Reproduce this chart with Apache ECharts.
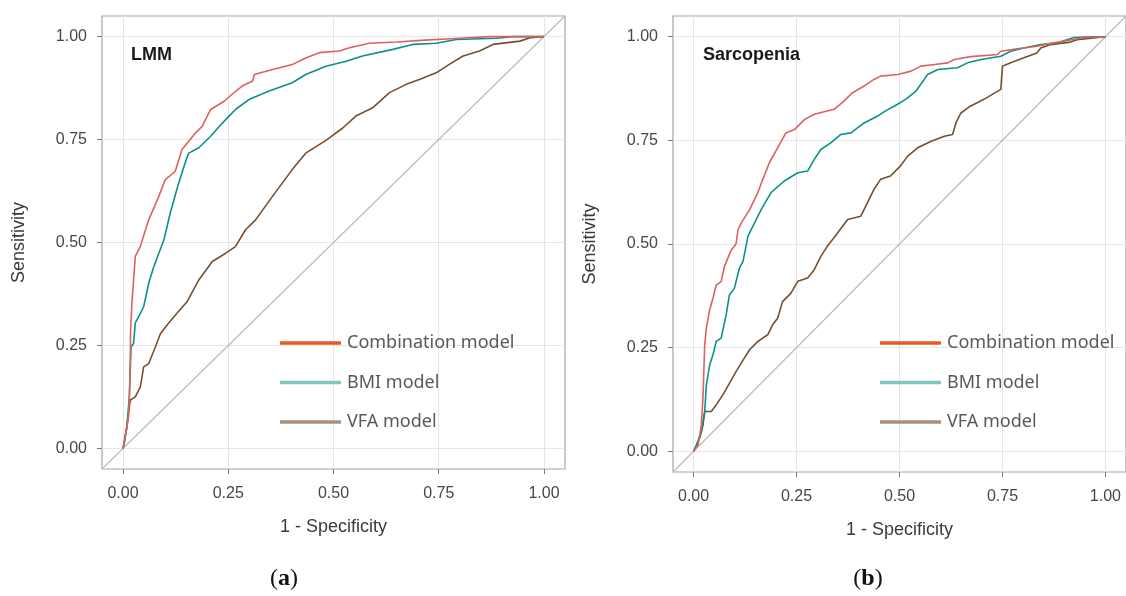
<!DOCTYPE html>
<html>
<head>
<meta charset="utf-8">
<title>ROC curves</title>
<script src="https://cdn.jsdelivr.net/npm/echarts@6/dist/echarts.min.js"></script>
<style>
    html, body { margin: 0; padding: 0; background: #fff; }
    #chart { width: 1126px; height: 596px; }
</style>
</head>
<body>
<div id="chart"></div>
<script>
// tick values shared by both panels
var tickValues = [0, 0.25, 0.5, 0.75, 1];
var tickLabels = ['0.00', '0.25', '0.50', '0.75', '1.00'];
var modelNames = ['Combination model', 'BMI model', 'VFA model'];
var panelNames = ['LMM', 'Sarcopenia'];
var captions = ['a', 'b'];

// (a) LMM  -- [1 - specificity, sensitivity]
var lmmCombination = [[0, 0], [0.005, 0.028], [0.013, 0.076], [0.015, 0.125], [0.017, 0.206], [0.018, 0.29],
    [0.021, 0.352], [0.025, 0.409], [0.029, 0.466], [0.041, 0.49], [0.05, 0.52], [0.061, 0.555], [0.085, 0.612],
    [0.10, 0.652], [0.124, 0.673], [0.14, 0.726], [0.172, 0.766], [0.188, 0.782], [0.208, 0.823], [0.24, 0.843],
    [0.259, 0.86], [0.283, 0.88], [0.308, 0.892], [0.312, 0.908], [0.355, 0.92], [0.402, 0.932], [0.434, 0.948],
    [0.466, 0.961], [0.514, 0.965], [0.538, 0.973], [0.585, 0.984], [0.649, 0.987], [0.728, 0.992], [0.80, 0.996],
    [0.87, 1.0], [1, 1]];
var lmmBmi = [[0, 0], [0.003, 0.012], [0.009, 0.052], [0.015, 0.125], [0.019, 0.247], [0.025, 0.255], [0.029, 0.304],
    [0.037, 0.32], [0.049, 0.344], [0.061, 0.401], [0.073, 0.441], [0.085, 0.474], [0.097, 0.506], [0.112, 0.571],
    [0.132, 0.644], [0.15, 0.701], [0.156, 0.717], [0.18, 0.73], [0.208, 0.758], [0.236, 0.79], [0.267, 0.823],
    [0.299, 0.847], [0.347, 0.868], [0.402, 0.888], [0.434, 0.908], [0.482, 0.928], [0.53, 0.94], [0.569, 0.953],
    [0.641, 0.969], [0.688, 0.981], [0.744, 0.984], [0.792, 0.993], [0.887, 0.996], [0.927, 1.0], [1, 1]];
var lmmVfa = [[0, 0], [0.009, 0.052], [0.017, 0.117], [0.029, 0.125], [0.041, 0.149], [0.049, 0.198], [0.061, 0.206],
    [0.077, 0.247], [0.089, 0.279], [0.108, 0.304], [0.128, 0.328], [0.152, 0.356], [0.18, 0.409], [0.212, 0.454],
    [0.244, 0.474], [0.267, 0.49], [0.291, 0.531], [0.315, 0.555], [0.355, 0.612], [0.402, 0.677], [0.434, 0.717],
    [0.482, 0.748], [0.522, 0.778], [0.553, 0.807], [0.593, 0.827], [0.633, 0.864], [0.673, 0.884], [0.704, 0.896],
    [0.744, 0.912], [0.776, 0.933], [0.808, 0.953], [0.847, 0.965], [0.879, 0.981], [0.943, 0.989], [0.967, 0.997],
    [1, 1]];

// (b) Sarcopenia
var sarcCombination = [[0, 0], [0.011, 0.015], [0.019, 0.064], [0.023, 0.136], [0.027, 0.257], [0.031, 0.297],
    [0.039, 0.341], [0.047, 0.369], [0.055, 0.401], [0.067, 0.41], [0.075, 0.446], [0.091, 0.485], [0.103, 0.50],
    [0.108, 0.535], [0.116, 0.551], [0.136, 0.583], [0.156, 0.624], [0.168, 0.656], [0.184, 0.696], [0.204, 0.732],
    [0.224, 0.768], [0.245, 0.776], [0.269, 0.80], [0.293, 0.813], [0.341, 0.825], [0.361, 0.841], [0.386, 0.865],
    [0.414, 0.881], [0.438, 0.897], [0.454, 0.905], [0.496, 0.909], [0.528, 0.917], [0.552, 0.929], [0.585, 0.933],
    [0.617, 0.937], [0.633, 0.945], [0.673, 0.952], [0.738, 0.957], [0.746, 0.965], [0.786, 0.971], [0.834, 0.977],
    [0.867, 0.984], [0.915, 0.992], [0.947, 0.998], [1, 1]];
var sarcBmi = [[0, 0], [0.007, 0.015], [0.019, 0.048], [0.027, 0.096], [0.031, 0.16], [0.039, 0.208], [0.047, 0.233],
    [0.055, 0.265], [0.067, 0.273], [0.079, 0.329], [0.087, 0.377], [0.099, 0.393], [0.111, 0.441], [0.12, 0.458],
    [0.128, 0.498], [0.132, 0.519], [0.148, 0.551], [0.164, 0.583], [0.188, 0.624], [0.22, 0.652], [0.253, 0.672],
    [0.277, 0.676], [0.293, 0.704], [0.309, 0.728], [0.333, 0.744], [0.357, 0.764], [0.382, 0.768], [0.414, 0.792],
    [0.446, 0.808], [0.464, 0.82], [0.488, 0.833], [0.515, 0.849], [0.54, 0.869], [0.56, 0.897], [0.568, 0.909],
    [0.593, 0.921], [0.641, 0.925], [0.665, 0.937], [0.698, 0.945], [0.746, 0.953], [0.77, 0.965], [0.802, 0.973],
    [0.843, 0.981], [0.883, 0.985], [0.923, 0.998], [0.963, 1.0], [1, 1]];
var sarcVfa = [[0, 0], [0.015, 0.032], [0.023, 0.064], [0.027, 0.096], [0.043, 0.096], [0.055, 0.112], [0.071, 0.136],
    [0.087, 0.164], [0.103, 0.192], [0.12, 0.22], [0.136, 0.245], [0.156, 0.265], [0.18, 0.281], [0.192, 0.305],
    [0.204, 0.321], [0.216, 0.361], [0.236, 0.381], [0.253, 0.41], [0.277, 0.418], [0.293, 0.438], [0.309, 0.47],
    [0.325, 0.495], [0.341, 0.515], [0.374, 0.559], [0.406, 0.567], [0.422, 0.599], [0.438, 0.632], [0.454, 0.656],
    [0.478, 0.664], [0.502, 0.688], [0.52, 0.712], [0.544, 0.732], [0.577, 0.748], [0.609, 0.76], [0.629, 0.764],
    [0.637, 0.792], [0.649, 0.816], [0.673, 0.833], [0.705, 0.849], [0.746, 0.873], [0.75, 0.929], [0.77, 0.937],
    [0.802, 0.949], [0.834, 0.961], [0.843, 0.973], [0.867, 0.981], [0.915, 0.987], [0.931, 0.993], [1, 1]];

var diagonal = [[-0.05, -0.05], [1.05, 1.05]];

(function () {
    var lineColors = ['#dc625d', '#0b908b', '#75502f'];
    var legendColors = ['#e95a1c', '#80c7bb', '#a8917f'];
    var curves = [
        [lmmCombination, lmmBmi, lmmVfa],
        [sarcCombination, sarcBmi, sarcVfa]
    ];
    var grids = [
        { left: 102, top: 16, width: 463, height: 453 },
        { left: 673, top: 16, width: 455, height: 456 }
    ];
    var legendLeft = [275, 875];
    var titleLeft = [131, 703];
    var captionX = [284, 868];

    var option = {
        animation: false,
        backgroundColor: '#fff',
        title: [],
        legend: [],
        grid: [],
        xAxis: [],
        yAxis: [],
        series: [],
        graphic: []
    };

    function fmt(v) {
        return tickLabels[tickValues.indexOf(v)] || '';
    }

    for (var i = 0; i < 2; i++) {
        option.grid.push({
            left: grids[i].left, top: grids[i].top,
            width: grids[i].width, height: grids[i].height,
            show: true, borderColor: '#a6a6a6', borderWidth: 1.2
        });
        var axisCommon = {
            type: 'value', gridIndex: i, min: -0.05, max: 1.05,
            nameLocation: 'middle',
            nameTextStyle: { fontFamily: 'Liberation Sans', fontSize: 18, color: '#3a3a3a' },
            axisLine: { show: false, onZero: false },
            axisTick: { show: true, length: 5, customValues: tickValues, lineStyle: { color: '#7a7a7a' } },
            axisLabel: {
                customValues: tickValues, formatter: fmt,
                fontFamily: 'Liberation Sans', fontSize: 16, color: '#474747'
            },
            splitLine: { show: true, lineStyle: { color: '#e6e6e6', width: 1 } }
        };
        option.xAxis.push(Object.assign({}, axisCommon, {
            name: '1 - Specificity', nameGap: 49,
            axisLabel: Object.assign({}, axisCommon.axisLabel, { margin: 17 })
        }));
        option.yAxis.push(Object.assign({}, axisCommon, {
            name: 'Sensitivity', nameGap: 74,
            axisLabel: Object.assign({}, axisCommon.axisLabel, { margin: 15 })
        }));

        option.series.push({
            type: 'line', xAxisIndex: i, yAxisIndex: i,
            data: diagonal, symbol: 'none', silent: true,
            lineStyle: { color: '#bdbdbd', width: 1.3 }
        });
        for (var k = 0; k < 3; k++) {
            option.series.push({
                name: modelNames[k], type: 'line', xAxisIndex: i, yAxisIndex: i,
                data: curves[i][k], symbol: 'none', z: 3 + (2 - k),
                itemStyle: { color: lineColors[k] },
                lineStyle: { color: lineColors[k], width: 1.6 }
            });
        }

        option.legend.push({
            orient: 'vertical', left: legendLeft[i], top: 328,
            icon: 'rect', itemWidth: 61, itemHeight: 3.5, itemGap: 19.5,
            selectedMode: false,
            textStyle: {
                fontFamily: 'Noto Sans', fontSize: 18, color: '#595959',
                lineHeight: 20, padding: [0, 0, 0, 1]
            },
            data: modelNames.map(function (n, k) {
                return { name: n, itemStyle: { color: legendColors[k] } };
            })
        });

        option.title.push({
            text: panelNames[i], left: titleLeft[i], top: 46, padding: 0,
            textStyle: { fontFamily: 'Liberation Sans', fontSize: 18, fontWeight: 'bold', color: '#1a1a1a' }
        });

        option.graphic.push({
            type: 'text', x: captionX[i], y: 579,
            style: {
                text: '{p|(}{b|' + captions[i] + '}{p|)}',
                align: 'center', verticalAlign: 'middle',
                rich: {
                    p: { fontFamily: 'Liberation Serif', fontSize: 24, fill: '#111', color: '#111' },
                    b: { fontFamily: 'Liberation Serif', fontSize: 24, fontWeight: 'bold', fill: '#111', color: '#111' }
                }
            }
        });
    }

    var chart = echarts.init(document.getElementById('chart'));
    chart.setOption(option);
})();
</script>
</body>
</html>
